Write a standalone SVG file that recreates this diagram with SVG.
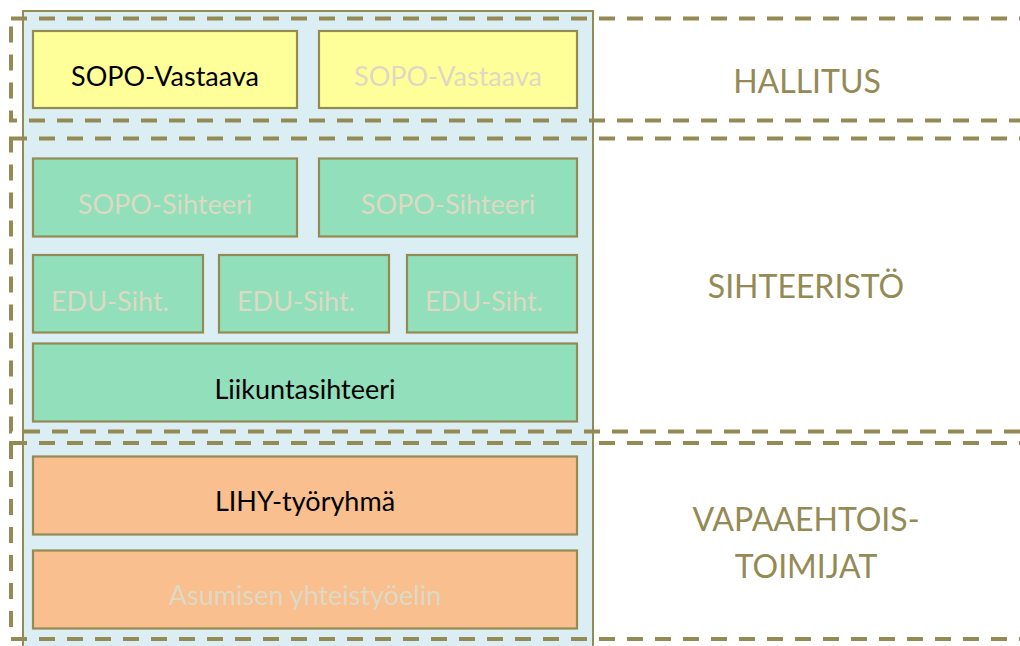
<svg xmlns="http://www.w3.org/2000/svg" width="1020" height="646" viewBox="0 0 1020 646">
<style>
.bg{fill:#FFFFFF}
.container{fill:#DBEEF3;stroke:#948A54;stroke-width:2}
.band{fill:none;stroke:#948A54;stroke-width:4;stroke-dasharray:16 12}
.box{stroke:#948A54;stroke-width:2.2}
.yellow{fill:#FFFF99}
.green{fill:#92DFBC}
.orange{fill:#F9BF8F}
.t{font-family:Lato,"Open Sans","Liberation Sans",sans-serif;font-size:27px;text-anchor:middle}
.dark{fill:#000000}
.faded{fill:#DDD9C3}
.label{font-family:Lato,"Open Sans","Liberation Sans",sans-serif;font-size:32px;text-anchor:middle;fill:#948A54}
</style>
<rect class="bg" x="0" y="0" width="1020" height="646"/>
<rect id="container" class="container" x="23" y="11" width="570" height="650"/>
<g id="bands">
  <rect id="band-hallitus" class="band" x="11" y="18.5" width="1030" height="102"/>
  <rect id="band-sihteeristo" class="band" x="11" y="138.5" width="1030" height="293"/>
  <rect id="band-vapaaehtois" class="band" x="11" y="443" width="1030" height="196"/>
</g>
<g id="connectors"></g>
<g id="n-sopo-vastaava-1">
  <rect class="box yellow" x="33" y="31" width="264" height="77"/>
  <text class="t dark" x="165" y="86">SOPO-Vastaava</text>
</g>
<g id="n-sopo-vastaava-2">
  <rect class="box yellow" x="319" y="31" width="258" height="77"/>
  <text class="t faded" x="448" y="86">SOPO-Vastaava</text>
</g>
<g id="n-sopo-sihteeri-1">
  <rect class="box green" x="33" y="158.5" width="264" height="78"/>
  <text class="t faded" x="165" y="214">SOPO-Sihteeri</text>
</g>
<g id="n-sopo-sihteeri-2">
  <rect class="box green" x="319" y="158.5" width="258" height="78"/>
  <text class="t faded" x="448" y="214">SOPO-Sihteeri</text>
</g>
<g id="n-edu-1">
  <rect class="box green" x="33" y="255" width="170" height="77.5"/>
  <text class="t faded" x="110" y="311">EDU-Siht.</text>
</g>
<g id="n-edu-2">
  <rect class="box green" x="219" y="255" width="170" height="77.5"/>
  <text class="t faded" x="296" y="311">EDU-Siht.</text>
</g>
<g id="n-edu-3">
  <rect class="box green" x="407" y="255" width="170" height="77.5"/>
  <text class="t faded" x="484" y="311">EDU-Siht.</text>
</g>
<g id="n-liikuntasihteeri">
  <rect class="box green" x="33" y="343.5" width="544" height="78"/>
  <text class="t dark" x="305" y="398.5">Liikuntasihteeri</text>
</g>
<g id="n-lihy">
  <rect class="box orange" x="33" y="456.5" width="544" height="78"/>
  <text class="t dark" x="305" y="511">LIHY-työryhmä</text>
</g>
<g id="n-asumisen">
  <rect class="box orange" x="33" y="550.5" width="544" height="78"/>
  <text class="t faded" x="305" y="605">Asumisen yhteistyöelin</text>
</g>
<g id="n-label-hallitus">
  <text class="label" x="807" y="93">HALLITUS</text>
</g>
<g id="n-label-sihteeristo">
  <text class="label" x="806" y="297.5">SIHTEERISTÖ</text>
</g>
<g id="n-label-vapaaehtois">
  <text class="label" x="806" y="530.5">VAPAAEHTOIS-</text>
  <text class="label" x="806" y="577.5">TOIMIJAT</text>
</g>
</svg>
